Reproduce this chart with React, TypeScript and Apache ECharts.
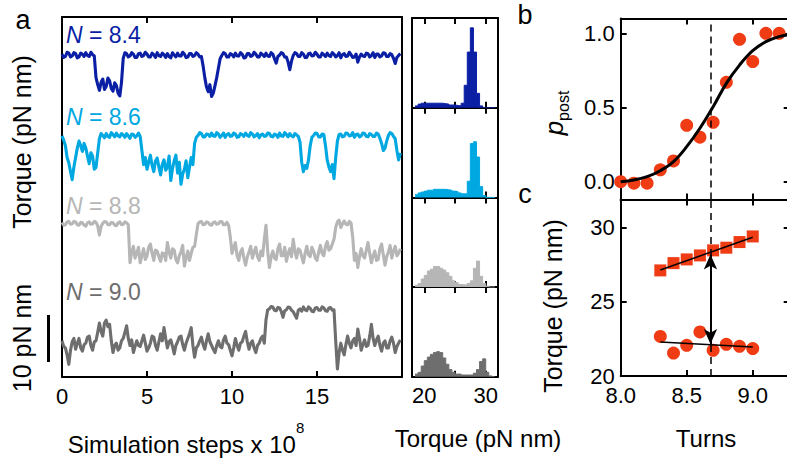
import React, { useEffect, useRef } from "react";
import * as echarts from "echarts";

const FONT = '"Liberation Sans", Arial, Helvetica, sans-serif';

// ---------- panel a : torque traces ----------
const SAMPLE_DT = 0.1; // x 10^8 simulation steps
const N_LABELS = ["8.4", "8.6", "8.8", "9.0"];
const TRACE_COLORS = ["#0b1fa5", "#00a8e1", "#b6b6b6", "#6e6e6e"];
const TIME_LABELS = [0, 5, 10, 15];
const TIME_TICKS = [5, 10, 15];

const TORQUE_N84 = [
  28.5, 27.8, 28.0, 28.9, 28.7, 27.9, 28.1, 28.8, 28.6, 27.7, 27.9, 28.7, 28.5, 28.0, 28.8, 28.2, 28.0, 28.9, 28.4, 28.1,
  23.5, 22.0, 20.8, 22.5, 23.2, 21.0, 21.6, 23.4, 22.8, 21.2, 20.6, 22.4, 21.8, 20.2, 19.6, 22.5, 27.6, 28.8, 28.6, 27.9,
  28.1, 28.8, 28.5, 27.8, 27.8, 28.6, 28.7, 28.0, 28.2, 28.9, 28.5, 27.9, 27.9, 28.7, 28.4, 27.8, 28.8, 28.2, 28.0, 28.7,
  28.4, 27.8, 28.6, 28.0, 27.7, 28.8, 28.3, 27.9, 28.7, 28.1, 28.1, 28.9, 28.5, 27.8, 27.9, 28.6, 28.6, 28.0, 28.2, 28.8,
  28.5, 27.9, 28.0, 26.0, 23.5, 21.5, 20.5, 22.0, 19.5, 20.2, 21.8, 23.5, 25.5, 27.5, 28.2, 28.8, 28.6, 27.9, 27.9, 28.6,
  28.4, 27.9, 28.7, 28.1, 28.1, 28.8, 28.5, 27.7, 27.8, 28.6, 28.6, 28.0, 28.2, 28.9, 28.5, 27.9, 27.9, 28.7, 28.4, 28.0,
  28.7, 28.1, 28.0, 28.8, 28.5, 27.5, 26.6, 28.0, 28.3, 28.8, 28.6, 27.9, 27.9, 26.8, 25.2, 27.0, 28.2, 28.8, 28.6, 28.0,
  28.0, 28.8, 28.5, 27.8, 27.8, 28.6, 28.7, 28.1, 28.2, 28.9, 28.5, 27.9, 27.9, 28.7, 28.4, 28.0, 28.7, 28.2, 28.0, 28.8,
  28.5, 27.9, 28.2, 28.8, 27.7, 28.4, 28.6, 28.0, 28.1, 28.9, 28.4, 27.8, 27.9, 28.5, 26.8, 27.9, 28.5, 28.1, 28.0, 28.7,
  28.6, 27.9, 28.2, 28.8, 27.8, 28.5, 28.5, 27.9, 28.1, 28.8, 28.7, 28.0, 28.0, 28.6, 28.4, 27.6, 26.5, 27.8, 28.2, 28.6,
];
const TORQUE_N86 = [
  28.1, 27.2, 26.0, 23.5, 22.4, 20.5, 18.8, 21.5, 23.5, 25.5, 27.0, 26.0, 24.8, 26.5, 25.5, 23.8, 22.2, 24.5, 23.8, 21.0,
  21.4, 24.5, 27.5, 28.6, 28.2, 27.7, 28.6, 28.0, 27.8, 28.8, 28.4, 27.9, 28.7, 28.1, 27.9, 28.6, 28.3, 27.8, 28.6, 28.1,
  27.6, 28.5, 28.4, 27.8, 28.1, 28.7, 28.0, 25.0, 22.0, 23.5, 21.0, 22.5, 24.0, 21.8, 20.5, 22.8, 23.4, 21.5, 19.8, 22.0,
  23.0, 20.8, 21.5, 23.8, 18.6, 21.2, 22.8, 24.0, 20.2, 22.5, 17.8, 20.0, 21.0, 22.8, 19.2, 21.5, 23.5, 22.0, 26.5, 27.8,
  28.2, 28.8, 28.6, 27.9, 27.9, 28.5, 28.4, 28.0, 28.7, 28.1, 28.0, 28.8, 28.5, 27.8, 28.2, 28.7, 27.8, 28.4, 28.6, 28.0,
  28.1, 28.7, 28.5, 27.8, 27.9, 28.6, 28.4, 28.0, 28.7, 28.2, 28.0, 28.8, 28.5, 27.9, 28.2, 28.6, 27.7, 28.3, 28.5, 28.0,
  28.1, 28.7, 28.6, 28.0, 27.9, 28.5, 28.3, 27.8, 28.7, 28.1, 28.0, 28.8, 28.4, 27.9, 28.6, 28.1, 27.9, 28.6, 28.3, 28.0,
  26.8, 22.5, 20.5, 21.8, 21.2, 23.0, 26.0, 27.8, 28.2, 28.7, 28.6, 27.9, 27.9, 28.5, 28.4, 26.0, 23.0, 21.5, 20.5, 22.0,
  19.0, 23.5, 27.0, 28.4, 28.5, 27.9, 28.0, 28.7, 28.6, 28.1, 28.2, 28.8, 27.8, 28.4, 28.5, 27.9, 28.1, 28.7, 28.6, 28.0,
  27.9, 28.6, 28.4, 28.0, 28.0, 28.7, 28.5, 27.6, 26.5, 25.0, 25.5, 27.0, 28.2, 28.8, 28.6, 28.0, 27.5, 25.0, 23.0, 24.5,
];
const TORQUE_N88 = [
  29.1, 28.5, 28.6, 29.2, 29.3, 28.7, 28.8, 29.3, 29.2, 28.6, 28.5, 29.1, 29.0, 28.5, 28.3, 29.0, 29.2, 28.7, 28.8, 29.3,
  29.1, 28.4, 26.4, 28.2, 28.9, 29.3, 29.2, 28.6, 28.6, 29.1, 29.0, 28.5, 28.4, 29.0, 29.2, 28.6, 28.7, 29.2, 29.0, 28.6,
  20.5, 22.8, 24.0, 21.5, 22.5, 23.8, 20.5, 22.0, 23.5, 21.2, 22.0, 23.8, 24.5, 22.5, 21.0, 23.2, 23.0, 21.8, 20.8, 22.6,
  22.5, 21.0, 24.8, 22.8, 21.5, 23.5, 23.2, 21.2, 20.5, 22.0, 22.8, 24.2, 19.8, 21.5, 23.0, 21.0, 22.5, 23.8, 24.0, 26.5,
  28.8, 29.2, 29.3, 28.6, 28.7, 29.2, 29.1, 28.6, 28.5, 29.1, 29.2, 28.7, 28.8, 29.3, 29.3, 28.6, 28.6, 29.1, 28.5, 26.0,
  22.5, 23.8, 24.8, 22.0, 21.0, 22.8, 23.5, 21.5, 20.0, 21.8, 22.8, 24.0, 21.5, 22.8, 23.8, 21.8, 21.0, 23.0, 22.0, 25.5,
  28.5, 23.0, 19.5, 21.8, 23.0, 21.5, 21.2, 23.5, 24.5, 22.0, 22.0, 23.8, 20.8, 22.5, 23.5, 21.8, 25.5, 23.0, 21.5, 23.5,
  23.2, 21.8, 20.5, 22.5, 24.0, 22.2, 21.8, 23.8, 23.0, 21.5, 21.0, 22.8, 24.2, 22.5, 22.0, 24.0, 25.0, 23.2, 23.5, 24.5,
  25.5, 28.0, 29.2, 29.6, 28.0, 28.8, 29.4, 28.7, 28.6, 29.3, 29.0, 26.0, 21.0, 22.5, 19.5, 21.8, 23.5, 22.0, 21.5, 23.2,
  24.8, 22.5, 20.5, 22.0, 23.0, 21.0, 21.2, 23.5, 24.5, 22.2, 20.0, 21.8, 22.8, 24.2, 21.5, 23.0, 24.0, 22.0, 22.5, 23.5,
];
const TORQUE_N90 = [
  23.0, 21.8, 21.5, 20.0, 18.0, 21.0, 22.8, 23.5, 21.2, 22.5, 23.5, 21.5, 20.8, 22.2, 22.5, 23.8, 24.0, 22.0, 21.0, 22.8,
  23.0, 24.8, 26.8, 25.0, 24.0, 26.8, 27.4, 26.0, 26.5, 23.0, 20.5, 22.0, 22.5, 21.0, 21.5, 23.0, 23.5, 24.8, 26.2, 23.5,
  22.0, 23.2, 20.5, 21.8, 23.0, 22.0, 21.8, 23.0, 24.2, 22.5, 20.8, 21.5, 22.5, 24.0, 23.8, 22.0, 21.0, 22.8, 24.5, 23.0,
  25.8, 23.5, 21.5, 22.8, 23.2, 21.8, 20.2, 22.0, 22.8, 23.8, 24.0, 22.2, 21.0, 22.5, 23.5, 24.5, 25.8, 22.0, 19.5, 21.5,
  22.0, 23.0, 23.8, 22.2, 21.2, 23.0, 24.5, 22.8, 22.0, 21.2, 20.5, 22.0, 23.0, 21.8, 21.5, 23.2, 24.0, 22.5, 22.2, 21.0,
  19.8, 21.5, 23.5, 22.0, 21.0, 22.5, 22.8, 24.0, 25.0, 22.8, 21.2, 22.5, 23.0, 21.5, 20.5, 22.0, 22.5, 23.5, 24.0, 22.5,
  27.5, 29.6, 29.8, 30.3, 30.2, 29.5, 29.4, 30.1, 30.0, 29.2, 28.0, 29.4, 29.6, 30.2, 30.1, 29.5, 29.2, 28.5, 27.8, 29.5,
  29.8, 29.3, 30.2, 29.6, 29.4, 30.2, 29.9, 29.3, 29.2, 30.0, 30.1, 29.5, 29.5, 30.2, 30.0, 29.4, 29.3, 30.0, 30.1, 29.5,
  29.6, 23.0, 17.0, 20.5, 22.5, 21.0, 20.0, 22.2, 24.0, 22.5, 21.5, 23.0, 23.5, 22.0, 25.5, 23.5, 21.0, 22.2, 23.2, 21.8,
  22.0, 24.0, 26.5, 23.5, 22.0, 23.2, 24.0, 22.0, 20.8, 22.5, 23.0, 21.5, 21.5, 23.0, 23.8, 22.5, 20.5, 21.8, 22.5, 23.2,
];
const TRACES = [TORQUE_N84, TORQUE_N86, TORQUE_N88, TORQUE_N90];
// vertical stacking offsets of the traces (pN nm)
const TRACE_OFFSETS = [40.2, 23.2, 3.8, -15.3];
const A_Y_MAX = 76.6;
const SCALE_BAR_PN = 10;

// ---------- histograms ----------
const HIST_BIN_LEFT = [
  18.5, 19, 19.5, 20, 20.5, 21, 21.5, 22, 22.5, 23, 23.5, 24, 24.5,
  25, 25.5, 26, 26.5, 27, 27.5, 28, 28.5, 29, 29.5, 30, 30.5, 31,
];
const HIST_BIN_WIDTH = 0.5;
const HIST_N84 = [0.02, 0.04, 0.05, 0.05, 0.05, 0.05, 0.05, 0.05, 0.05, 0.045, 0.04, 0.03, 0.03, 0.025, 0.02, 0.05, 0.25, 0.62, 0.89, 0.62, 0.16, 0.02, 0, 0, 0, 0];
const HIST_N86 = [0.03, 0.05, 0.06, 0.07, 0.08, 0.08, 0.09, 0.09, 0.09, 0.09, 0.085, 0.08, 0.07, 0.065, 0.05, 0.04, 0.04, 0.18, 0.6, 0.62, 0.45, 0.12, 0.02, 0, 0, 0];
const HIST_N88 = [0.02, 0.04, 0.09, 0.13, 0.18, 0.2, 0.23, 0.23, 0.21, 0.19, 0.16, 0.12, 0.07, 0.05, 0.03, 0.025, 0.025, 0.04, 0.07, 0.21, 0.29, 0.12, 0.04, 0.01, 0, 0];
const HIST_N90 = [0.03, 0.05, 0.12, 0.18, 0.22, 0.25, 0.27, 0.28, 0.27, 0.21, 0.14, 0.08, 0.05, 0.03, 0.03, 0.02, 0.02, 0.02, 0.02, 0.04, 0.08, 0.17, 0.2, 0.05, 0.01, 0];
const HISTS = [HIST_N84, HIST_N86, HIST_N88, HIST_N90];
const HIST_TICKS = [20, 25, 30];
const HIST_LABELS = [20, 30];

// ---------- panel b ----------
const TURNS_B = [8.0, 8.1, 8.2, 8.3, 8.4, 8.5, 8.6, 8.7, 8.8, 8.9, 9.0, 9.1, 9.2, 9.3];
const P_POST = [0.0, -0.01, -0.01, 0.08, 0.14, 0.38, 0.3, 0.4, 0.67, 0.96, 0.81, 1.0, 1.0, 1.0];
const FIT_TURNS = [8.0, 8.1, 8.2, 8.3, 8.4, 8.5, 8.6, 8.7, 8.8, 8.9, 9.0, 9.1, 9.2, 9.28];
const FIT_P = [0.0, 0.011, 0.034, 0.074, 0.135, 0.236, 0.36, 0.505, 0.663, 0.786, 0.883, 0.944, 0.978, 0.99];
const P_TICKS = [0, 0.5, 1.0];
const TURN_TICKS = [8.0, 8.5, 9.0];
const TRANSITION_TURNS = 8.68;

// ---------- panel c ----------
const TURNS_C = [8.3, 8.4, 8.5, 8.6, 8.7, 8.8, 8.9, 9.0];
const TORQUE_POST = [27.12, 27.61, 27.86, 28.13, 28.47, 28.65, 29.03, 29.41];
const TORQUE_PRE = [22.67, 21.55, 22.07, 22.97, 21.73, 22.14, 22.0, 21.85];
const FIT_C_TURNS = [8.3, 9.0];
const FIT_POST = [27.15, 29.35];
const FIT_PRE = [22.3, 21.95];
const ARROW_TORQUE = [28.2, 22.15];
const TORQUE_TICKS = [20, 25, 30];

const RED = "#f03c14";

function buildOption() {
  const line = { show: true, onZero: false, lineStyle: { color: "#000", width: 2 } };
  const tick = (vals: number[]) => ({
    show: true, inside: true, length: 6, customValues: vals,
    lineStyle: { color: "#000", width: 2 },
  });
  const noTick = { show: false };
  const noLabel = { show: false };
  const lab = (vals: number[], fmt?: (v: number) => string, margin = 8) => ({
    show: true, customValues: vals, fontSize: 22, fontFamily: FONT, color: "#000",
    margin, formatter: fmt,
  });
  const noSplit = { show: false };
  const fix1 = (v: number) => Number(v).toFixed(1);

  const histTops = [18, 107.7, 197.4, 287.1];
  const grid: any[] = [
    { left: 62, top: 17, width: 340, height: 360 },
    ...histTops.map((t) => ({ left: 412, top: t, width: 86, height: 89.7 })),
    { left: 620.7, top: 18.5, width: 169, height: 181 },
    { left: 620.7, top: 199.5, width: 169, height: 176.5 },
  ].map((g) => ({ ...g, containLabel: false, outerBoundsMode: "none" }));

  const xAxis: any[] = [
    { gridIndex: 0, type: "value", min: 0, max: 20, position: "bottom", axisLine: line, axisTick: tick(TIME_TICKS), axisLabel: lab(TIME_LABELS), splitLine: noSplit },
    { gridIndex: 0, type: "value", min: 0, max: 20, position: "top", axisLine: line, axisTick: tick(TIME_TICKS), axisLabel: noLabel, splitLine: noSplit },
    ...[0, 1, 2, 3].map((k) => ({
      gridIndex: 1 + k, type: "value", min: 18, max: 32, position: "bottom", axisLine: line,
      axisTick: tick(HIST_TICKS), axisLabel: k === 3 ? lab(HIST_LABELS) : noLabel, splitLine: noSplit,
    })),
    ...[0, 1, 2, 3].map((k) => ({
      gridIndex: 1 + k, type: "value", min: 18, max: 32, position: "top", axisLine: line,
      axisTick: tick(HIST_TICKS), axisLabel: noLabel, splitLine: noSplit,
    })),
    { gridIndex: 5, type: "value", min: 8, max: 9.28, position: "bottom", axisLine: line, axisTick: tick(TURN_TICKS), axisLabel: noLabel, splitLine: noSplit },
    { gridIndex: 5, type: "value", min: 8, max: 9.28, position: "top", axisLine: line, axisTick: tick(TURN_TICKS), axisLabel: noLabel, splitLine: noSplit },
    { gridIndex: 6, type: "value", min: 8, max: 9.28, position: "bottom", axisLine: line, axisTick: tick(TURN_TICKS), axisLabel: lab(TURN_TICKS, fix1), splitLine: noSplit },
    { gridIndex: 6, type: "value", min: 8, max: 9.28, position: "top", axisLine: line, axisTick: tick(TURN_TICKS), axisLabel: noLabel, splitLine: noSplit },
  ];

  const yAxis: any[] = [
    { gridIndex: 0, type: "value", min: 0, max: A_Y_MAX, position: "left", axisLine: line, axisTick: noTick, axisLabel: noLabel, splitLine: noSplit },
    { gridIndex: 0, type: "value", min: 0, max: A_Y_MAX, position: "right", axisLine: line, axisTick: noTick, axisLabel: noLabel, splitLine: noSplit },
    ...[0, 1, 2, 3].map((k) => ({ gridIndex: 1 + k, type: "value", min: 0, max: 1, position: "left", axisLine: line, axisTick: noTick, axisLabel: noLabel, splitLine: noSplit })),
    ...[0, 1, 2, 3].map((k) => ({ gridIndex: 1 + k, type: "value", min: 0, max: 1, position: "right", axisLine: line, axisTick: noTick, axisLabel: noLabel, splitLine: noSplit })),
    { gridIndex: 5, type: "value", min: -0.12, max: 1.1, position: "left", axisLine: line, axisTick: tick(P_TICKS), axisLabel: lab(P_TICKS, fix1, 6), splitLine: noSplit },
    { gridIndex: 5, type: "value", min: -0.12, max: 1.1, position: "right", axisLine: line, axisTick: tick(P_TICKS), axisLabel: noLabel, splitLine: noSplit },
    { gridIndex: 6, type: "value", min: 20, max: 31.9, position: "left", axisLine: line, axisTick: tick(TORQUE_TICKS), axisLabel: lab(TORQUE_TICKS, undefined, 6), splitLine: noSplit },
    { gridIndex: 6, type: "value", min: 20, max: 31.9, position: "right", axisLine: line, axisTick: tick(TORQUE_TICKS), axisLabel: noLabel, splitLine: noSplit },
  ];

  const series: any[] = [];
  TRACES.forEach((vals, k) => {
    series.push({
      type: "line", xAxisIndex: 0, yAxisIndex: 0, symbol: "none", silent: true,
      data: vals.map((v, i) => [i * SAMPLE_DT, v + TRACE_OFFSETS[k]]),
      lineStyle: { color: TRACE_COLORS[k], width: 3.1, join: "round" },
      itemStyle: { color: TRACE_COLORS[k] },
    });
  });
  HISTS.forEach((h, k) => {
    const last = HIST_BIN_LEFT[HIST_BIN_LEFT.length - 1] + HIST_BIN_WIDTH;
    series.push({
      type: "line", step: "end", xAxisIndex: 2 + k, yAxisIndex: 2 + k, symbol: "none", silent: true,
      data: HIST_BIN_LEFT.map((x, i) => [x, h[i]]).concat([[last, 0]]),
      lineStyle: { color: TRACE_COLORS[k], width: 1 },
      areaStyle: { color: TRACE_COLORS[k], opacity: 1 },
      itemStyle: { color: TRACE_COLORS[k] },
    });
  });
  // panel b
  series.push({
    type: "scatter", xAxisIndex: 10, yAxisIndex: 10, symbolSize: 13, clip: true,
    itemStyle: { color: RED, opacity: 1 },
    data: TURNS_B.map((x, i) => [x, P_POST[i]]),
    markLine: {
      silent: true, symbol: "none", label: { show: false },
      lineStyle: { color: "#000", type: [7, 5], width: 1.5 },
      data: [{ xAxis: TRANSITION_TURNS }],
    },
    z: 2,
  });
  series.push({
    type: "line", xAxisIndex: 10, yAxisIndex: 10, symbol: "none", smooth: 0.4, silent: true,
    data: FIT_TURNS.map((x, i) => [x, FIT_P[i]]),
    lineStyle: { color: "#000", width: 3 }, z: 3,
  });
  // panel c
  series.push({
    type: "scatter", xAxisIndex: 12, yAxisIndex: 12, symbol: "rect", symbolSize: 12,
    itemStyle: { color: RED, opacity: 1 },
    data: TURNS_C.map((x, i) => [x, TORQUE_POST[i]]), z: 2,
    markLine: {
      silent: true, symbol: "none", label: { show: false },
      lineStyle: { color: "#000", type: [7, 5], width: 1.5 },
      data: [{ xAxis: TRANSITION_TURNS }],
    },
  });
  series.push({
    type: "scatter", xAxisIndex: 12, yAxisIndex: 12, symbol: "circle", symbolSize: 13,
    itemStyle: { color: RED, opacity: 1 },
    data: TURNS_C.map((x, i) => [x, TORQUE_PRE[i]]), z: 2,
  });
  series.push({
    type: "line", xAxisIndex: 12, yAxisIndex: 12, symbol: "none", silent: true,
    data: FIT_C_TURNS.map((x, i) => [x, FIT_POST[i]]),
    lineStyle: { color: "#000", width: 1.5 }, z: 3,
    markLine: {
      silent: true, label: { show: false },
      symbol: ["arrow", "arrow"], symbolSize: [10, 15],
      lineStyle: { color: "#000", type: "solid", width: 2 },
      itemStyle: { color: "#000" },
      data: [[
        { coord: [TRANSITION_TURNS, ARROW_TORQUE[0]] },
        { coord: [TRANSITION_TURNS, ARROW_TORQUE[1]] },
      ]],
    },
  });
  series.push({
    type: "line", xAxisIndex: 12, yAxisIndex: 12, symbol: "none", silent: true,
    data: FIT_C_TURNS.map((x, i) => [x, FIT_PRE[i]]),
    lineStyle: { color: "#000", width: 1.5 }, z: 3,
  });

  const txt = (text: string, x: number, y: number, size: number, extra: any = {}) => ({
    type: "text", x, y, silent: true, ...extra,
    style: {
      text, fontSize: size, fontFamily: FONT, fill: "#000",
      textAlign: "center", textVerticalAlign: "middle", ...(extra.style || {}),
    },
  });

  const nLabelY = [35, 117, 206, 292];
  const graphic: any[] = [
    txt("a", 23, 20, 27),
    txt("b", 525, 15, 27),
    txt("c", 525, 194, 27),
    txt("Torque (pN nm)", 22, 142, 25, { rotation: Math.PI / 2 }),
    txt("10 pN nm", 22, 338, 25, { rotation: Math.PI / 2 }),
    {
      type: "line", silent: true,
      shape: { x1: 48.5, y1: 315, x2: 48.5, y2: 315 + SCALE_BAR_PN * (360 / A_Y_MAX) },
      style: { stroke: "#000", lineWidth: 3 },
    },
    ...N_LABELS.map((n, k) => ({
      type: "text", x: 66, y: nLabelY[k], silent: true,
      style: {
        text: `{i|N}{r| = ${n}}`, textAlign: "left", textVerticalAlign: "middle",
        rich: {
          i: { fontSize: 23, fontFamily: FONT, fontStyle: "italic", fill: TRACE_COLORS[k] },
          r: { fontSize: 23, fontFamily: FONT, fill: TRACE_COLORS[k] },
        },
      },
    })),
    {
      type: "text", x: 186, y: 438, silent: true,
      style: {
        text: "{m|Simulation steps x 10}{s|8}", textAlign: "center", textVerticalAlign: "middle",
        rich: {
          m: { fontSize: 24, fontFamily: FONT, fill: "#000", lineHeight: 36, verticalAlign: "bottom" },
          s: { fontSize: 15, fontFamily: FONT, fill: "#000", lineHeight: 12, verticalAlign: "top" },
        },
      },
    },
    txt("Torque (pN nm)", 478, 438, 24),
    txt("Turns", 706, 438, 24),
    txt("Torque (pN nm)", 553, 306, 25, { rotation: Math.PI / 2 }),
    {
      type: "text", x: 556, y: 113, rotation: Math.PI / 2, silent: true,
      style: {
        text: "{p|p}{s|post}", textAlign: "center", textVerticalAlign: "middle",
        rich: {
          p: { fontSize: 26, fontFamily: FONT, fontStyle: "italic", fill: "#000", lineHeight: 30, verticalAlign: "top" },
          s: { fontSize: 16, fontFamily: FONT, fill: "#000", lineHeight: 14, verticalAlign: "bottom" },
        },
      },
    },
  ];

  return {
    animation: false,
    backgroundColor: "#fff",
    textStyle: { fontFamily: FONT },
    grid, xAxis, yAxis, series, graphic,
  };
}

export default function App() {
  const ref = useRef<HTMLDivElement>(null);
  useEffect(() => {
    if (!ref.current) return;
    const chart = echarts.init(ref.current, null, { renderer: "svg" });
    chart.setOption(buildOption() as any);
    return () => chart.dispose();
  }, []);
  return (
    <div
      ref={ref}
      style={{ width: 787, height: 459, position: "absolute", left: 0, top: 0 }}
    />
  );
}
